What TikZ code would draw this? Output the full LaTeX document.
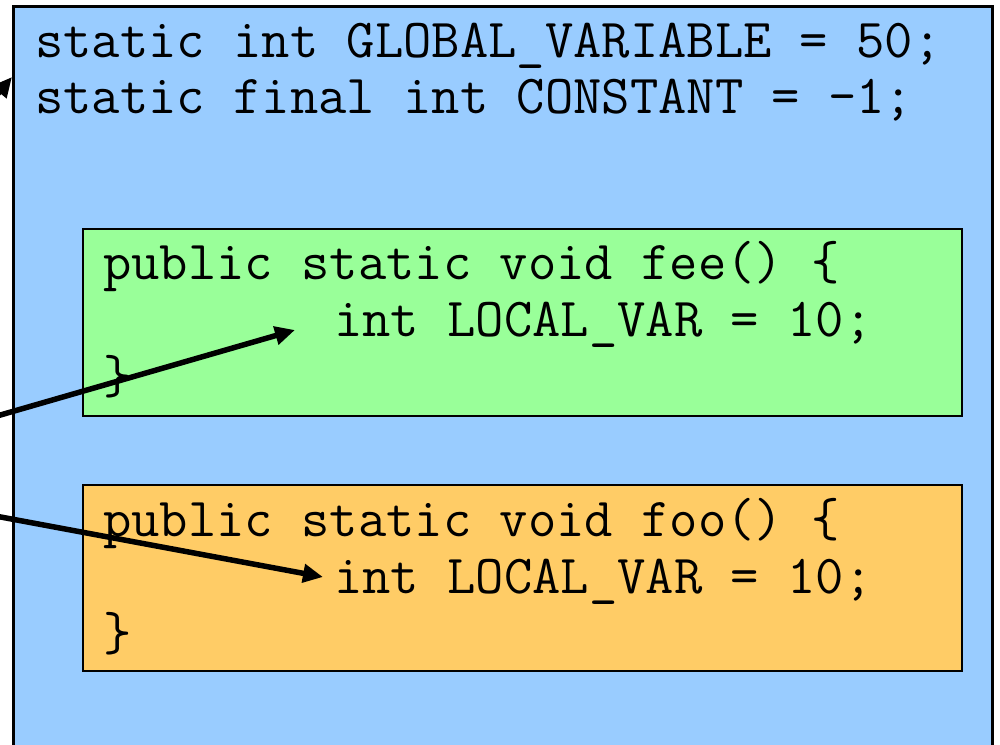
\documentclass[tikz,border=0pt]{standalone}
\usetikzlibrary{arrows.meta}

\definecolor{classblue}{HTML}{99CCFF}
\definecolor{feegreen}{HTML}{99FF99}
\definecolor{fooorange}{HTML}{FFCC66}

\begin{document}
\begin{tikzpicture}[x=1pt, y=-1pt,
	code/.style={font=\ttfamily\fontsize{55}{60}\selectfont, inner sep=0pt, anchor=base west},
	scopebox/.style={draw=black, line width=2pt, anchor=north west, inner sep=0pt},
	ptr/.style={-{Triangle[length=20pt,width=18pt]}, line width=5.5pt}]
				\useasboundingbox (0,0) rectangle (1000,744);
				\clip (0,0) rectangle (1000,744);
				
				% class body and the two methods
				\node[scopebox, fill=classblue, line width=2.5pt, minimum width=979pt, minimum height=800pt] (cls) at (12,5) {};
				\node[scopebox, fill=feegreen, minimum width=879pt, minimum height=187pt] (feeBox) at (82,228) {};
				\node[scopebox, fill=fooorange, minimum width=879pt, minimum height=186pt] (fooBox) at (82,484) {};
				
				\node[code] (glob) at (35,57) {static int GLOBAL\_VARIABLE = 50;};
				\node[code] (const) at (35,113) {static final int CONSTANT = -1;};
				
				\node[code] (fee) at (103,279) {public static void fee() \{};
				\node[code] (feeVar) at (334,336) {int LOCAL\_VAR = 10;};
				\node[code] (feeEnd) at (103,393) {\}};
				
				\node[code] (foo) at (103,536) {public static void foo() \{};
				\node[code] (fooVar) at (334,593) {int LOCAL\_VAR = 10;};
				\node[code] (fooEnd) at (103,650) {\}};
				
				% pointers coming in from outside
				\coordinate (src1) at (-25,121);
				\coordinate (src2) at (-10,418);
				\coordinate (src3) at (-10,515);
				
				\draw[ptr] (src1) -- ([yshift=-72pt]cls.north west);
				\draw[ptr] (src2) -- ([xshift=-39pt,yshift=6pt]feeVar.base west);
				\draw[ptr] (src3) -- ([xshift=-11pt,yshift=16pt]fooVar.base west);
				\end{tikzpicture}
\end{document}
